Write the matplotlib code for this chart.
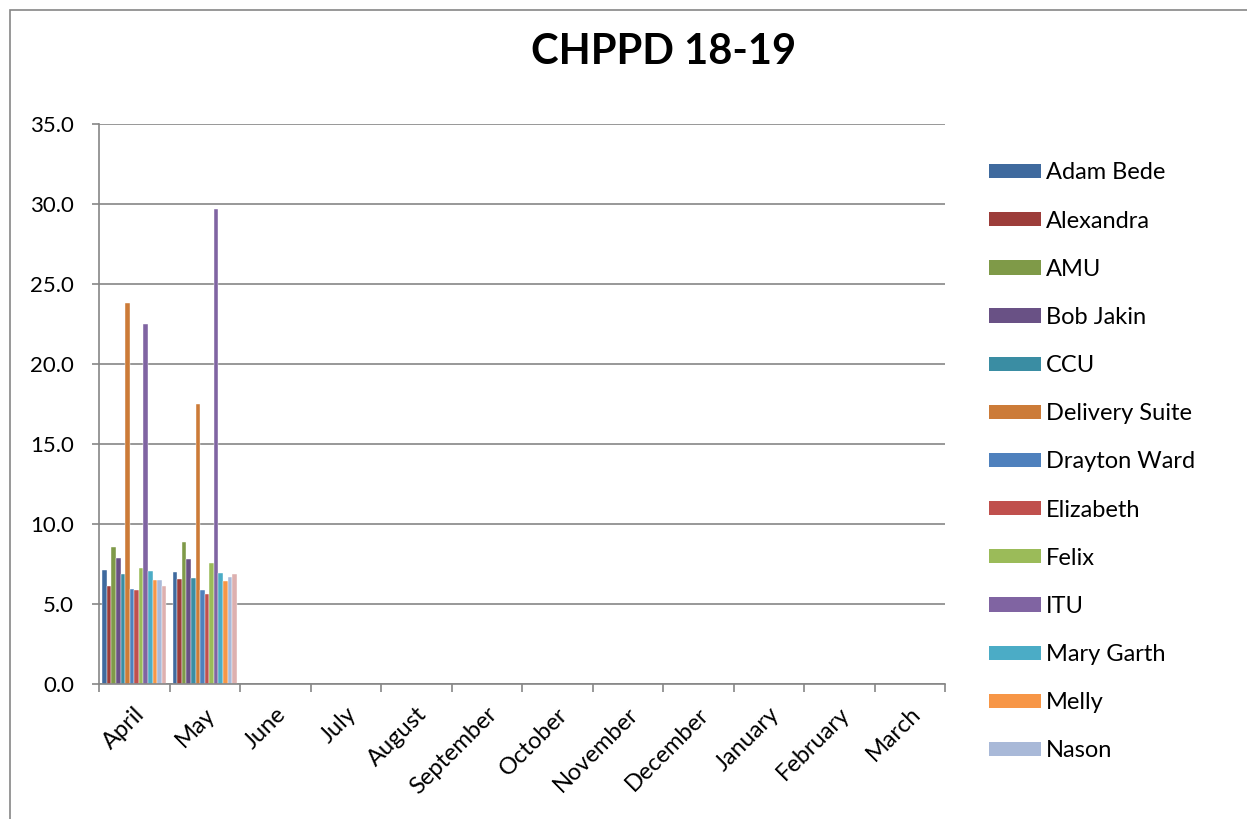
import matplotlib.pyplot as plt
from matplotlib.patches import Rectangle, Patch
import numpy as np

plt.rcParams['font.family'] = ['Lato', 'DejaVu Sans']

months = ["April", "May", "June", "July", "August", "September", "October",
          "November", "December", "January", "February", "March"]

wards = ["Adam Bede", "Alexandra", "AMU", "Bob Jakin", "CCU", "Delivery Suite",
         "Drayton Ward", "Elizabeth", "Felix", "ITU", "Mary Garth", "Melly",
         "Nason", "Other"]

april = [7.15, 6.1, 8.55, 7.85, 6.9, 23.8, 5.95, 5.9, 7.25, 22.5, 7.05, 6.5, 6.5, 6.1]
may = [7.0, 6.55, 8.85, 7.8, 6.65, 17.5, 5.85, 5.65, 7.55, 29.7, 6.95, 6.45, 6.7, 6.85]

colors = ["#3F6A9E", "#9C3D3A", "#7F9A48", "#695185", "#3A8DA3", "#CC7B38",
          "#4F81BD", "#C0504D", "#9BBB59", "#8064A2", "#4BACC6", "#F79646",
          "#A9B9D8", "#DDB0AF"]

fig = plt.figure(figsize=(12.47, 8.19), dpi=100)
ax = fig.add_axes([99 / 1247, 1 - 684 / 819, 846 / 1247, 560 / 819])

# chart outer border
fig.patches.append(Rectangle((10 / 1247, -0.1), 1.2, 1 - 10 / 819 + 0.1,
                             transform=fig.transFigure, fill=False,
                             edgecolor="#868686", linewidth=1.2))

x = np.arange(len(months))
w = 0.065
values = np.array([april, may])
for i, ward in enumerate(wards):
    ax.bar(x[:2] + (i - 6.5) * w, values[:, i], width=w, color=colors[i],
           edgecolor="white", linewidth=0.3)

ax.set_xlim(-0.5, 11.5)
ax.set_ylim(0, 35)
ax.set_yticks(np.arange(0, 36, 5))
ax.set_yticklabels([f"{v:.1f}" for v in np.arange(0, 36, 5)], fontsize=16)
ax.yaxis.grid(True, color="#868686", linewidth=1.2)
ax.set_axisbelow(True)

ax.set_xticks(x)
ax.set_xticklabels(months, rotation=45, ha="right", rotation_mode="anchor", fontsize=17)
ax.tick_params(axis="x", which="major", length=0, pad=14)
ax.set_xticks(np.arange(-0.5, 12, 1), minor=True)
ax.tick_params(axis="x", which="minor", length=6, color="#868686", width=1.2)
ax.tick_params(axis="y", length=5, color="#868686", width=1.2, pad=13)

for s in ["top", "right"]:
    ax.spines[s].set_visible(False)
for s in ["left", "bottom"]:
    ax.spines[s].set_color("#868686")
    ax.spines[s].set_linewidth(1.2)

fig.text(664 / 1247, 1 - 52 / 819, "CHPPD 18-19", ha="center", va="center",
         fontsize=30, fontweight="bold")

handles = [Patch(facecolor=colors[i], label=wards[i]) for i in range(13)]
fig.legend(handles=handles, loc="upper left", bbox_to_anchor=(980 / 1247, 1 - 153 / 819),
           frameon=False, fontsize=17, handlelength=2.2, handleheight=0.55,
           labelspacing=1.15, handletextpad=0.2, borderaxespad=0)

fig.savefig("out.png", dpi=100)
